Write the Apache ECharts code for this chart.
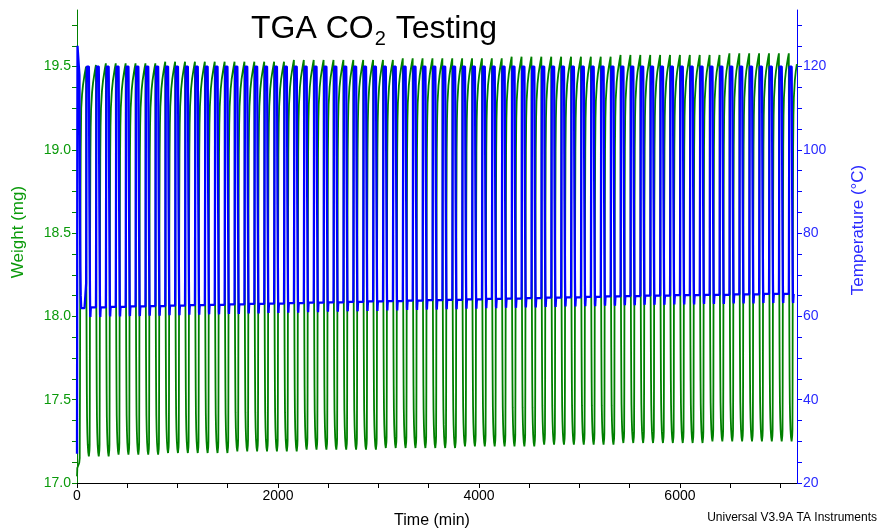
<!DOCTYPE html>
<html>
<head>
<meta charset="utf-8">
<script src="https://cdn.jsdelivr.net/npm/echarts@6/dist/echarts.min.js"></script>
<style>
  html, body { margin: 0; padding: 0; background: #fff; }
  #chart { width: 880px; height: 530px; }
</style>
</head>
<body>
<div id="chart"></div>
<script>
// ---- Method settings (min, °C) ----
const cyclePeriod = 98.5;      // one desorb/adsorb cycle
const firstHeatStart = 90;     // start of first desorption ramp
const timeEnd = 7165;          // end of run
const desorbTemp = 120;

// ---- Pretreatment before cycling ----
const pretreatTime   = [0, 1.5, 3, 5, 22, 24, 27, 30, 33, 37, 42, 50, 60, 75, 90];
const pretreatTemp   = [27, 55, 100, 125, 125, 118, 100, 84, 72, 65, 62, 62, 62, 62, 62];
const pretreatWeight = [17.04, 17.06, 17.09, 17.10, 17.12, 17.13, 17.15, 17.60, 18.50, 19.00, 19.25, 19.33, 19.39, 19.45, 19.50];

// ---- One cycle, temperature: minutes after ramp start, fraction low(0) -> 120 °C(1) ----
const tempOffsets = [0, 1, 3, 5, 6.5, 8, 28, 29, 30.5, 32, 34, 36.5, 39, 41, 43, 45, 48];
const tempFrac    = [0, 0.1, 0.5, 0.85, 0.97, 1, 1, 0.96, 0.8, 0.62, 0.42, 0.22, 0.06, -0.03, -0.04, -0.02, 0];

// ---- One cycle, weight: minutes after ramp start, fraction base(0) -> peak(1) ----
const weightOffsets = [0, 1, 2.5, 4, 6, 8, 10, 13, 17, 22, 28, 32, 34, 36, 37.5, 39, 41, 43, 46, 50, 60, 70, 80, 90];
const weightFrac    = [1, 0.8, 0.55, 0.38, 0.25, 0.16, 0.1, 0.06, 0.03, 0.01, 0, 0.005, 0.015, 0.03, 0.15, 0.4, 0.62, 0.76, 0.84, 0.885, 0.93, 0.955, 0.972, 0.988];
const riseStartOffset = 35;    // after this the weight heads for the new peak

// ---- Per-cycle levels ----
const peakWeight = [
  19.51, 19.52, 19.52, 19.52, 19.52, 19.52, 19.52, 19.53, 19.53, 19.53, 19.53, 19.53,
  19.53, 19.53, 19.53, 19.53, 19.53, 19.53, 19.53, 19.53, 19.54, 19.54, 19.54, 19.54,
  19.54, 19.54, 19.54, 19.54, 19.54, 19.54, 19.54, 19.55, 19.55, 19.55, 19.55, 19.55,
  19.55, 19.55, 19.55, 19.55, 19.55, 19.55, 19.56, 19.56, 19.56, 19.56, 19.56, 19.56,
  19.56, 19.56, 19.56, 19.56, 19.56, 19.57, 19.57, 19.57, 19.57, 19.57, 19.57, 19.57,
  19.57, 19.57, 19.57, 19.57, 19.58, 19.58, 19.58, 19.58, 19.58, 19.58, 19.58, 19.58
];
const baseWeight = [
  17.16, 17.16, 17.16, 17.17, 17.17, 17.17, 17.17, 17.17, 17.18, 17.18, 17.18, 17.18,
  17.18, 17.18, 17.18, 17.19, 17.19, 17.19, 17.19, 17.19, 17.19, 17.19, 17.20, 17.20,
  17.20, 17.20, 17.20, 17.20, 17.20, 17.20, 17.21, 17.21, 17.21, 17.21, 17.21, 17.21,
  17.21, 17.21, 17.22, 17.22, 17.22, 17.22, 17.22, 17.22, 17.22, 17.22, 17.23, 17.23,
  17.23, 17.23, 17.23, 17.23, 17.23, 17.23, 17.24, 17.24, 17.24, 17.24, 17.24, 17.24,
  17.24, 17.24, 17.24, 17.25, 17.25, 17.25, 17.25, 17.25, 17.25, 17.25, 17.25, 17.25
];
const lowTemp = [
  62.2, 62.2, 62.3, 62.3, 62.4, 62.4, 62.5, 62.5, 62.6, 62.6, 62.7, 62.7,
  62.8, 62.8, 62.9, 62.9, 63.0, 63.0, 63.1, 63.1, 63.2, 63.2, 63.3, 63.3,
  63.4, 63.4, 63.5, 63.5, 63.6, 63.6, 63.7, 63.7, 63.8, 63.8, 63.9, 63.9,
  64.0, 64.0, 64.1, 64.1, 64.2, 64.2, 64.3, 64.3, 64.4, 64.4, 64.5, 64.5,
  64.6, 64.6, 64.7, 64.7, 64.8, 64.8, 64.9, 64.9, 65.0, 65.0, 65.0, 65.1,
  65.1, 65.1, 65.2, 65.2, 65.2, 65.3, 65.3, 65.3, 65.4, 65.4, 65.4, 65.4
];

// ---- Axis ticks ----
const timeTicks = [0, 2000, 4000, 6000];
const weightTicks = ['17.0', '17.5', '18.0', '18.5', '19.0', '19.5'];
const tempTicks = [20, 40, 60, 80, 100, 120];

// Build the two traces from the pretreatment and the per-cycle program
const weightData = [];
const tempData = [];
for (let k = 0; k < pretreatTime.length; k++) {
  weightData.push([pretreatTime[k], pretreatWeight[k]]);
  tempData.push([pretreatTime[k], pretreatTemp[k]]);
}
let prevPeak = pretreatWeight[pretreatWeight.length - 1];
for (let i = 0; i < peakWeight.length; i++) {
  const t0 = firstHeatStart + i * cyclePeriod;
  const base = baseWeight[i];
  for (let k = 1; k < weightOffsets.length; k++) {
    const t = t0 + weightOffsets[k];
    if (t > timeEnd) break;
    const ref = weightOffsets[k] < riseStartOffset ? prevPeak : peakWeight[i];
    weightData.push([t, base + weightFrac[k] * (ref - base)]);
  }
  const tEnd = t0 + cyclePeriod;
  if (tEnd <= timeEnd) weightData.push([tEnd, peakWeight[i]]);
  prevPeak = peakWeight[i];

  const low = lowTemp[i];
  for (let k = 1; k < tempOffsets.length; k++) {
    const t = t0 + tempOffsets[k];
    if (t > timeEnd) break;
    const lo = k <= 6 && i > 0 ? lowTemp[i - 1] : low;
    tempData.push([t, lo + tempFrac[k] * (desorbTemp - lo)]);
  }
  if (tEnd <= timeEnd) tempData.push([tEnd, low]);
}

const FONT = 'Liberation Sans, Arial, Helvetica, sans-serif';
const GREEN = '#008000';
const GREEN_TXT = '#0a9a0a';
const BLUE = '#0000ff';
const BLUE_TXT = '#2a2aff';

const chart = echarts.init(document.getElementById('chart'), null, { renderer: 'canvas' });
chart.setOption({
  animation: false,
  backgroundColor: '#ffffff',
  title: {
    text: '{a|TGA CO}{s|2}{a| Testing}',
    left: 251,
    top: 13,
    padding: 0,
    textStyle: {
      fontWeight: 'normal',
      rich: {
        a: { fontFamily: FONT, fontSize: 32, lineHeight: 32, fontWeight: 'normal', color: '#000', verticalAlign: 'top' },
        s: { fontFamily: FONT, fontSize: 20, lineHeight: 20, fontWeight: 'normal', color: '#000', verticalAlign: 'top', padding: [16, 1, 0, 1] }
      }
    }
  },
  grid: { left: 77, right: 83, top: 10, bottom: 47, containLabel: false },
  xAxis: {
    type: 'value',
    min: 0,
    max: timeEnd,
    interval: 500,
    axisLine: { show: true, onZero: false, lineStyle: { color: '#000', width: 1 } },
    axisTick: { show: true, length: 5, lineStyle: { color: '#000' } },
    axisLabel: {
      color: '#000', fontFamily: FONT, fontSize: 14, margin: 6,
      showMaxLabel: false,
      formatter: v => (timeTicks.indexOf(v) >= 0 ? String(v) : '')
    },
    splitLine: { show: false }
  },
  yAxis: [
    {
      type: 'value',
      position: 'left',
      min: 17,
      max: 19.84,
      interval: 0.125,
      axisLine: { show: true, lineStyle: { color: GREEN, width: 1 } },
      axisTick: { show: true, length: 5, lineStyle: { color: GREEN } },
      axisLabel: {
        color: GREEN_TXT, fontFamily: FONT, fontSize: 14, margin: 6,
        showMaxLabel: false,
        formatter: v => { const s = v.toFixed(1); return (weightTicks.indexOf(s) >= 0 && Math.abs(v - Number(s)) < 1e-9) ? s : ''; }
      },
      splitLine: { show: false }
    },
    {
      type: 'value',
      position: 'right',
      min: 20,
      max: 133.6,
      interval: 5,
      axisLine: { show: true, lineStyle: { color: BLUE, width: 1 } },
      axisTick: { show: true, length: 5, lineStyle: { color: BLUE } },
      axisLabel: {
        color: BLUE_TXT, fontFamily: FONT, fontSize: 14, margin: 6,
        showMaxLabel: false,
        formatter: v => (tempTicks.indexOf(v) >= 0 ? String(v) : '')
      },
      splitLine: { show: false }
    }
  ],
  series: [
    {
      name: 'Weight',
      type: 'line',
      yAxisIndex: 0,
      data: weightData,
      showSymbol: false,
      symbol: 'none',
      sampling: 'none',
      lineStyle: { color: GREEN, width: 1.8 },
      z: 2
    },
    {
      name: 'Temperature',
      type: 'line',
      yAxisIndex: 1,
      data: tempData,
      showSymbol: false,
      symbol: 'none',
      sampling: 'none',
      lineStyle: { color: BLUE, width: 2.3 },
      z: 3
    }
  ],
  graphic: [
    {
      type: 'text', x: 18, y: 232, rotation: Math.PI / 2,
      style: { text: 'Weight (mg)', fontFamily: FONT, fontSize: 17, fill: GREEN_TXT, align: 'center', verticalAlign: 'middle' }
    },
    {
      type: 'text', x: 858, y: 230, rotation: Math.PI / 2,
      style: { text: 'Temperature (°C)', fontFamily: FONT, fontSize: 17, fill: BLUE_TXT, align: 'center', verticalAlign: 'middle' }
    },
    {
      type: 'text', x: 432, y: 521,
      style: { text: 'Time (min)', fontFamily: FONT, fontSize: 16, fill: '#000', align: 'center', verticalAlign: 'middle' }
    },
    {
      type: 'text', x: 877, y: 518,
      style: { text: 'Universal V3.9A TA Instruments', fontFamily: FONT, fontSize: 12, fill: '#000', align: 'right', verticalAlign: 'middle' }
    }
  ]
});
</script>
</body>
</html>
